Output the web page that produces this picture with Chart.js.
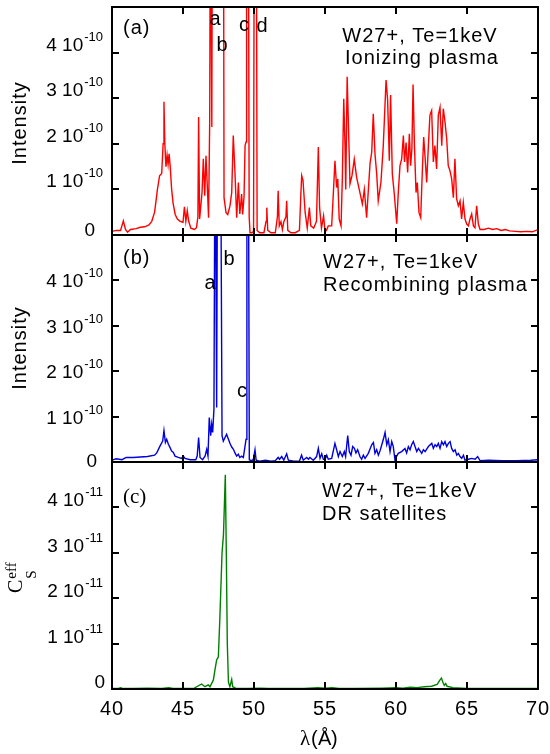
<!DOCTYPE html>
<html>
<head>
<meta charset="utf-8">
<script src="https://cdn.jsdelivr.net/npm/chart.js@4.4.1/dist/chart.umd.min.js"></script>
<style>
  body { margin: 0; background: #fff; }
  #wrap { position: relative; width: 550px; height: 754px; }
  canvas { position: absolute; left: 0; top: 0; }
</style>
</head>
<body>
<div id="wrap">
  <canvas id="chartA" width="550" height="754"></canvas>
  <canvas id="chartB" width="550" height="754"></canvas>
  <canvas id="chartC" width="550" height="754"></canvas>
</div>
<script>
// ---- data (wavelength in Angstrom, intensity in units of 1e-10 / 1e-11) ----

// (a) ionizing plasma, units of 1e-10
var waveA = [
  40.0, 40.3, 40.6, 40.8, 40.95, 41.1, 41.3, 41.7, 42.0, 42.3,
  42.6, 42.8, 43.0, 43.1, 43.2, 43.35, 43.5, 43.6, 43.66, 43.72,
  43.8, 43.88, 43.95, 44.02, 44.1, 44.2, 44.3, 44.45, 44.6, 44.8,
  45.0, 45.1, 45.2, 45.3, 45.4, 45.55, 45.8, 45.95, 46.05, 46.1,
  46.17, 46.34, 46.43, 46.53, 46.62, 46.71, 46.8, 46.88, 46.93, 47.03,
  47.07, 47.75, 47.85, 47.89, 48.03, 48.15, 48.31, 48.43, 48.54, 48.66,
  48.78, 48.9, 49.0, 49.13, 49.2, 49.3, 49.37, 49.44, 49.48, 49.6,
  49.66, 49.72, 49.85, 49.97, 50.02, 50.16, 50.22, 50.4, 50.7, 50.85,
  50.9, 50.97, 51.2, 51.5, 51.65, 51.7, 51.78, 51.9, 52.0, 52.1,
  52.25, 52.3, 52.38, 52.6, 52.9, 53.2, 53.3, 53.36, 53.45, 53.6,
  53.75, 53.9, 54.0, 54.2, 54.4, 54.53, 54.62, 54.75, 54.9, 55.0,
  55.1, 55.23, 55.47, 55.59, 55.7, 55.82, 55.9, 56.0, 56.13, 56.22,
  56.32, 56.41, 56.46, 56.56, 56.76, 56.9, 57.06, 57.23, 57.46, 57.63,
  57.77, 57.93, 58.17, 58.29, 58.4, 58.52, 58.64, 58.75, 58.94, 59.1,
  59.3, 59.41, 59.53, 59.62, 59.74, 59.88, 60.05, 60.16, 60.28, 60.4,
  60.52, 60.6, 60.71, 60.82, 60.94, 61.03, 61.12, 61.2, 61.3, 61.41,
  61.5, 61.62, 61.74, 61.85, 61.95, 62.04, 62.16, 62.28, 62.39, 62.51,
  62.63, 62.74, 62.86, 62.98, 63.1, 63.22, 63.33, 63.45, 63.57, 63.68,
  63.8, 63.92, 64.04, 64.15, 64.27, 64.39, 64.51, 64.62, 64.74, 64.86,
  64.98, 65.1, 65.21, 65.33, 65.45, 65.56, 65.68, 65.8, 65.92, 66.2,
  66.5, 66.8, 67.1, 67.4, 67.7, 68.0, 68.4, 68.8, 69.2, 69.6, 70.0
];
var intensA = [
  0.08, 0.1, 0.1, 0.31, 0.12, 0.06, 0.12, 0.14, 0.17, 0.18,
  0.22, 0.3, 0.5, 0.75, 1.0, 1.3, 1.35, 2.0, 2.92, 2.0,
  1.5, 1.75, 1.55, 1.78, 1.5, 1.0, 0.7, 0.45, 0.35, 0.3,
  0.28, 0.62, 0.3, 0.53, 0.3, 0.15, 0.12, 0.16, 0.4, 2.59,
  0.35, 0.93, 1.67, 0.86, 1.74, 1.08, 0.38, 2.48, 8, 2.37,
  8, 8, 8, 0.82, 0.49, 0.45, 0.64, 0.93, 2.18, 1.37,
  0.38, 1.15, 0.46, 0.9, 0.45, 0.85, 1.96, 2.04, 8, 8,
  0.4, 0.05, 0.05, 0.08, 8, 8, 0.1, 0.05, 0.05, 0.3,
  0.6, 0.1, 0.05, 0.05, 0.4, 0.97, 0.2, 0.29, 0.12, 0.29,
  0.4, 0.75, 0.1, 0.05, 0.05, 0.1, 0.9, 1.3, 1.2, 0.5,
  0.15, 0.6, 0.2, 0.15, 0.3, 1.93, 0.6, 0.15, 0.42, 0.08,
  0.1, 0.2, 0.2, 0.93, 1.63, 1.04, 1.23, 0.35, 0.2, 1.23,
  2.99, 1.96, 1.0, 3.47, 1.12, 1.3, 1.66, 1.26, 0.93, 0.68,
  1.0, 0.38, 1.56, 1.82, 2.66, 1.78, 1.34, 0.75, 1.16, 1.93,
  3.4, 2.96, 1.63, 3.07, 1.34, 0.9, 0.25, 0.93, 1.52, 1.67,
  2.18, 1.6, 2.03, 1.37, 2.22, 1.52, 1.89, 3.3, 1.96, 0.93,
  1.15, 0.49, 0.38, 1.37, 2.15, 1.74, 1.15, 1.96, 2.63, 2.73,
  1.6, 1.96, 1.45, 2.63, 2.8, 1.96, 2.77, 2.48, 2.11, 1.52,
  1.41, 1.23, 0.82, 1.67, 0.79, 0.64, 0.75, 0.35, 0.71, 0.35,
  0.24, 0.2, 0.35, 0.46, 0.2, 0.16, 0.64, 0.24, 0.12, 0.12,
  0.15, 0.12, 0.14, 0.1, 0.12, 0.09, 0.08, 0.07, 0.08, 0.07, 0.12
];

// (b) recombining plasma, units of 1e-10
var waveB = [
  40.0, 40.3, 40.7, 41.0, 41.5, 42.0, 42.5, 43.0, 43.15, 43.38,
  43.57, 43.66, 43.76, 43.85, 43.97, 44.04, 44.2, 44.32, 44.44, 44.67,
  44.9, 45.02, 45.14, 45.5, 45.9, 46.0, 46.1, 46.2, 46.38, 46.55,
  46.67, 46.76, 46.85, 46.95, 47.02, 47.09, 47.18, 47.26, 47.37, 47.44,
  47.64, 47.75, 47.84, 47.96, 48.07, 48.2, 48.32, 48.43, 48.55, 48.66,
  48.78, 48.9, 49.0, 49.13, 49.25, 49.37, 49.44, 49.5, 49.6, 49.67,
  49.8, 49.95, 50.07, 50.15, 50.4, 50.8, 51.2, 51.5, 51.7, 51.8,
  51.95, 52.1, 52.3, 52.42, 52.8, 53.2, 53.35, 53.47, 53.71, 53.83,
  53.94, 54.18, 54.41, 54.53, 54.65, 54.77, 54.88, 55.0, 55.12, 55.23,
  55.47, 55.7, 55.82, 55.94, 56.06, 56.22, 56.36, 56.45, 56.6, 56.71,
  56.83, 56.95, 57.07, 57.18, 57.3, 57.46, 57.58, 57.7, 57.82, 58.05,
  58.29, 58.41, 58.52, 58.64, 58.76, 58.88, 59.0, 59.11, 59.23, 59.35,
  59.46, 59.58, 59.7, 59.81, 59.93, 60.05, 60.16, 60.4, 60.63, 60.75,
  60.87, 60.99, 61.1, 61.22, 61.34, 61.46, 61.58, 61.81, 61.93, 62.05,
  62.28, 62.52, 62.63, 62.75, 62.87, 62.98, 63.1, 63.22, 63.34, 63.45,
  63.57, 63.69, 63.81, 63.92, 64.04, 64.16, 64.28, 64.39, 64.51, 64.63,
  64.75, 64.86, 65.1, 65.33, 65.57, 65.75, 65.92, 66.5, 67.5, 68.5, 69.5, 70.0
];
var intensB = [
  0.04, 0.07, 0.05, 0.1, 0.1, 0.11, 0.12, 0.15, 0.2, 0.35,
  0.46, 0.69, 0.43, 0.5, 0.39, 0.35, 0.24, 0.21, 0.13, 0.1,
  0.08, 0.13, 0.08, 0.05, 0.05, 0.13, 0.54, 0.1, 0.05, 0.13,
  0.28, 0.13, 0.98, 0.58, 0.83, 0.65, 1.17, 8, 1.2, 8,
  8, 0.58, 0.46, 0.54, 0.61, 0.5, 0.4, 0.33, 0.28, 0.2,
  0.13, 0.17, 0.1, 0.13, 0.1, 0.35, 0.5, 8, 8, 0.05,
  0.03, 0.05, 0.27, 0.04, 0.02, 0.04, 0.02, 0.03, 0.1, 0.06,
  0.12, 0.04, 0.18, 0.04, 0.02, 0.02, 0.15, 0.04, 0.1, 0.06,
  0.1, 0.04, 0.12, 0.3, 0.08, 0.18, 0.06, 0.05, 0.15, 0.06,
  0.08, 0.41, 0.27, 0.12, 0.23, 0.12, 0.23, 0.12, 0.58, 0.23,
  0.15, 0.34, 0.3, 0.2, 0.27, 0.12, 0.06, 0.15, 0.08, 0.19,
  0.38, 0.43, 0.19, 0.27, 0.15, 0.25, 0.38, 0.5, 0.65, 0.38,
  0.49, 0.23, 0.45, 0.34, 0.04, 0.13, 0.19, 0.23, 0.3, 0.2,
  0.34, 0.27, 0.38, 0.45, 0.34, 0.23, 0.3, 0.19, 0.27, 0.23,
  0.34, 0.41, 0.3, 0.38, 0.34, 0.41, 0.3, 0.45, 0.38, 0.45,
  0.34, 0.41, 0.45, 0.3, 0.23, 0.27, 0.15, 0.19, 0.12, 0.08,
  0.15, 0.04, 0.06, 0.08, 0.06, 0.12, 0.03, 0.04, 0.03, 0.03, 0.04, 0.05
];

// (c) DR satellites, units of 1e-11
var waveC = [
  40.0, 40.4, 40.6, 40.8, 41.5, 42.5, 43.5, 44.0, 44.3, 45.0,
  45.8, 46.31, 46.55, 46.78, 46.9, 47.14, 47.25, 47.37, 47.49, 47.6,
  47.75, 47.85, 47.98, 48.05, 48.12, 48.2, 48.3, 48.43, 48.5, 48.7,
  49.5, 50.5, 51.0, 52.0, 53.5, 54.5, 55.0, 55.5, 56.0, 57.0,
  59.0, 60.0, 60.5, 61.0, 61.5, 62.0, 62.5, 62.9, 63.1, 63.2,
  63.3, 63.4, 63.5, 63.6, 64.0, 65.0, 66.0, 68.0, 70.0
];
var intensC = [
  0.01, 0.01, 0.03, 0.01, 0.01, 0.02, 0.01, 0.03, 0.01, 0.01,
  0.02, 0.11, 0.05, 0.09, 0.05, 0.2, 0.42, 0.64, 0.71, 1.6,
  3.0, 3.4, 4.72, 3.0, 1.0, 0.15, 0.05, 0.21, 0.05, 0.02,
  0.01, 0.02, 0.01, 0.01, 0.01, 0.03, 0.02, 0.03, 0.01, 0.01,
  0.02, 0.03, 0.02, 0.04, 0.03, 0.05, 0.06, 0.1, 0.2, 0.24,
  0.15, 0.08, 0.12, 0.06, 0.03, 0.01, 0.01, 0.01, 0.01
];

var yTicks = [0, 1, 2, 3, 4];
var xTicks = [40, 45, 50, 55, 60, 65, 70];

var SANS = '"Liberation Sans", Arial, sans-serif';
var SERIF = '"Liberation Serif", "Times New Roman", serif';

// draws the frame, inward ticks and all the text of one panel
var panelDeco = {
  id: 'panelDeco',
  afterDraw: function (chart, args, opts) {
    var ctx = chart.ctx;
    var a = chart.chartArea;
    var xs = chart.scales.x;
    var ys = chart.scales.y;
    ctx.save();

    // frame
    ctx.strokeStyle = '#000';
    ctx.lineWidth = 2;
    ctx.strokeRect(a.left, a.top, a.right - a.left, a.bottom - a.top);

    // inward ticks
    ctx.beginPath();
    xs.ticks.forEach(function (t) {
      if (t.value <= xs.min || t.value >= xs.max) return;
      var px = Math.round(xs.getPixelForValue(t.value));
      ctx.moveTo(px, a.top); ctx.lineTo(px, a.top + 7);
      ctx.moveTo(px, a.bottom); ctx.lineTo(px, a.bottom - 7);
    });
    ys.ticks.forEach(function (t) {
      if (t.value <= ys.min || t.value >= ys.max) return;
      var py = Math.round(ys.getPixelForValue(t.value));
      ctx.moveTo(a.left, py); ctx.lineTo(a.left + 7, py);
      ctx.moveTo(a.right, py); ctx.lineTo(a.right - 7, py);
    });
    ctx.stroke();

    ctx.fillStyle = '#000';
    ctx.textBaseline = 'alphabetic';

    // y tick labels "n 10^exp"
    yTicks.forEach(function (v) {
      var py = ys.getPixelForValue(v);
      ctx.textAlign = 'right';
      ctx.letterSpacing = '0px';
      if (v === 0) {
        ctx.font = '19px ' + SANS;
        ctx.fillText('0', opts.zeroX, py + opts.zeroDy);
        return;
      }
      ctx.font = '13px ' + SANS;
      var supW = ctx.measureText(opts.exp).width;
      ctx.fillText(opts.exp, 103, py + opts.labelDy - 10);
      ctx.font = '19px ' + SANS;
      ctx.fillText(v + ' 10', 103 - supW - 1, py + opts.labelDy);
    });

    // rotated y title
    ctx.save();
    ctx.translate(opts.titleX, opts.titleY);
    ctx.rotate(-Math.PI / 2);
    if (opts.title === 'Cs') {
      ctx.textAlign = 'left';
      ctx.font = '20px ' + SERIF;
      ctx.fillText('C', 0, 0);
      var cw = ctx.measureText('C').width;
      ctx.font = '15px ' + SERIF;
      ctx.fillText('S', cw + 1, 14);
      ctx.fillText('eff', cw + 1, -6);
    } else {
      ctx.textAlign = 'center';
      ctx.textBaseline = 'middle';
      ctx.letterSpacing = '1px';
      ctx.font = '20px ' + SANS;
      ctx.fillText(opts.title, 0, 0);
    }
    ctx.restore();

    // free texts inside the panel
    opts.texts.forEach(function (t) {
      ctx.font = t.font || ('20px ' + SANS);
      ctx.textAlign = t.align || 'left';
      ctx.letterSpacing = t.spacing || '1px';
      ctx.fillText(t.s, t.x, t.y);
    });

    // bottom x axis labels
    if (opts.xLabels) {
      ctx.textAlign = 'center';
      ctx.letterSpacing = '1px';
      ctx.font = '20px ' + SANS;
      xTicks.forEach(function (v) {
        ctx.fillText(String(v), xs.getPixelForValue(v), 715);
      });
      ctx.letterSpacing = '0px';
      ctx.textAlign = 'left';
      ctx.font = '21px ' + SERIF;
      ctx.fillText('\u03bb', 300, 745);
      ctx.font = '20px ' + SANS;
      ctx.fillText('(', 311, 745);
      ctx.fillText('\u00c5', 318, 745);
      ctx.fillText(')', 331, 745);
    }
    ctx.restore();
  }
};

function makePanel(id, waves, values, color, yMax, pad, deco) {
  var pts = waves.map(function (w, i) { return { x: w, y: values[i] }; });
  return new Chart(document.getElementById(id), {
    type: 'line',
    data: {
      datasets: [{
        data: pts,
        borderColor: color,
        borderWidth: 1.4,
        pointRadius: 0,
        tension: 0,
        fill: false
      }]
    },
    options: {
      responsive: false,
      animation: false,
      devicePixelRatio: 1,
      events: [],
      layout: { padding: pad },
      scales: {
        x: { type: 'linear', min: 40, max: 70, display: false, ticks: { stepSize: 5 } },
        y: { type: 'linear', min: 0, max: yMax, display: false, ticks: { stepSize: 1 } }
      },
      plugins: {
        legend: { display: false },
        tooltip: { enabled: false },
        panelDeco: deco
      }
    },
    plugins: [panelDeco]
  });
}

makePanel('chartA', waveA, intensA, '#ff0000', 5,
  { left: 112, right: 12, top: 7, bottom: 754 - 235 },
  {
    exp: '-10', labelDy: -2, zeroX: 95, zeroDy: 1,
    title: 'Intensity', titleX: 20, titleY: 123,
    texts: [
      { s: '(a)', x: 123, y: 34 },
      { s: 'a', x: 215, y: 25, align: 'center', spacing: '0px' },
      { s: 'b', x: 222, y: 51, align: 'center', spacing: '0px' },
      { s: 'c', x: 244, y: 31, align: 'center', spacing: '0px' },
      { s: 'd', x: 262, y: 32, align: 'center', spacing: '0px' },
      { s: 'W27+, Te=1keV', x: 420, y: 42, align: 'center' },
      { s: 'Ionizing plasma', x: 422, y: 64, align: 'center' }
    ]
  });

makePanel('chartB', waveB, intensB, '#0000dd', 5,
  { left: 112, right: 12, top: 235, bottom: 754 - 462 },
  {
    exp: '-10', labelDy: 7, zeroX: 97, zeroDy: 5,
    title: 'Intensity', titleX: 20, titleY: 348,
    texts: [
      { s: '(b)', x: 123, y: 264 },
      { s: 'a', x: 210, y: 289, align: 'center', spacing: '0px' },
      { s: 'b', x: 229, y: 265, align: 'center', spacing: '0px' },
      { s: 'c', x: 242, y: 397, align: 'center', spacing: '0px' },
      { s: 'W27+, Te=1keV', x: 323, y: 268 },
      { s: 'Recombining plasma', x: 323, y: 291 }
    ]
  });

makePanel('chartC', waveC, intensC, '#008000', 5,
  { left: 112, right: 12, top: 462, bottom: 754 - 689 },
  {
    exp: '-11', labelDy: -1, zeroX: 105, zeroDy: -1,
    title: 'Cs', titleX: 22, titleY: 593,
    xLabels: true,
    texts: [
      { s: '(c)', x: 123, y: 503, font: '21px ' + SERIF, spacing: '0px' },
      { s: 'W27+, Te=1keV', x: 322, y: 497 },
      { s: 'DR satellites', x: 322, y: 520 }
    ]
  });
</script>
</body>
</html>
